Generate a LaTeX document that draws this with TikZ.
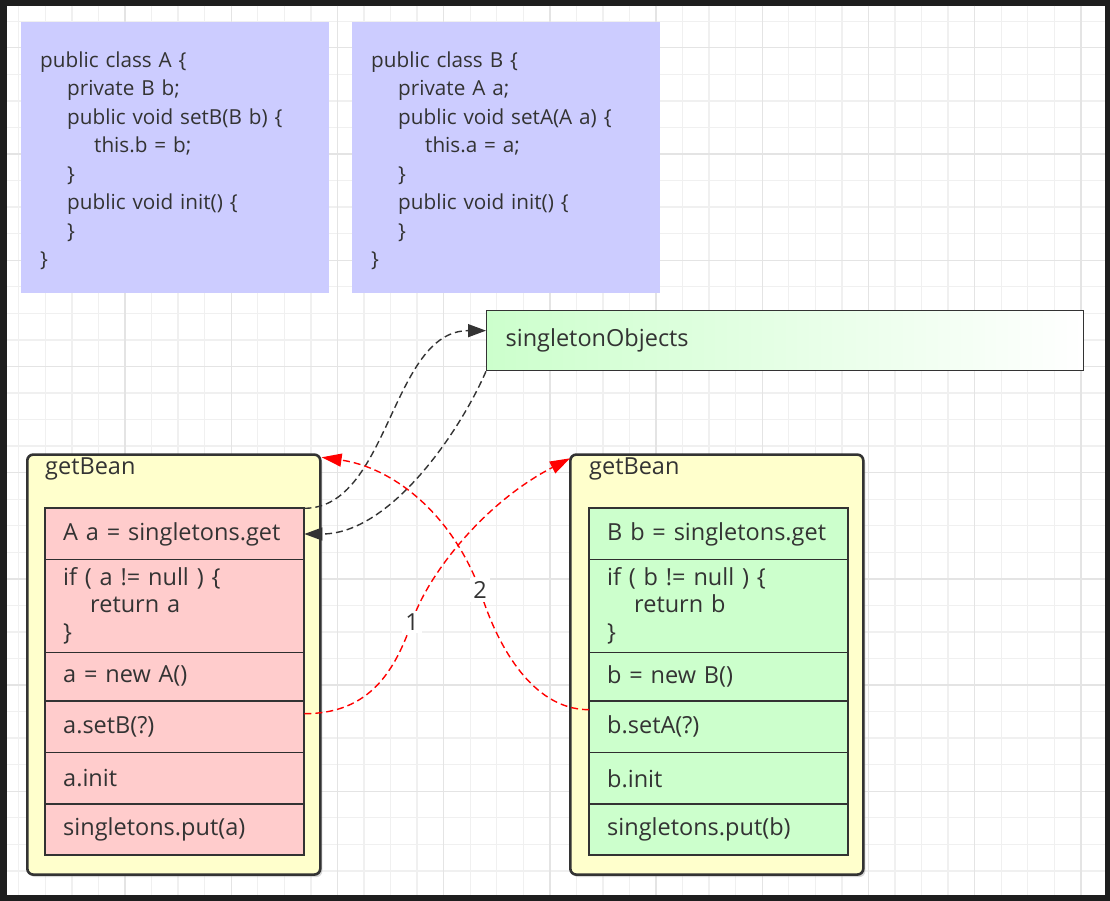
\documentclass[tikz,border=0pt]{standalone}
\usepackage{fontspec}
\setmainfont{Open Sans}
\usetikzlibrary{arrows.meta,calc,shadows}

\definecolor{frame}{HTML}{1E1E1E}
\definecolor{gridminor}{HTML}{F0F0F0}
\definecolor{gridmajor}{HTML}{E4E4E4}
\definecolor{codefill}{HTML}{CCCCFF}
\definecolor{beanfill}{HTML}{FFFFCC}
\definecolor{redfill}{HTML}{FFCCCC}
\definecolor{greenfill}{HTML}{CCFFCC}
\definecolor{ink}{HTML}{333333}
\definecolor{edgered}{HTML}{FF0000}

\newcommand{\topgap}{\rule{0pt}{22pt}}

\tikzset{
  txt/.style={font=\fontsize{23.5}{28}\selectfont, text=ink},
  codebox/.style={anchor=north west, fill=codefill, minimum width=308pt, minimum height=271pt,
    text width=270pt, inner xsep=19pt, inner ysep=0pt, align=left, text=ink,
    font=\fontsize{20.7}{28.5}\selectfont},
  sobox/.style={txt, anchor=north west, draw=ink, line width=1.3pt, left color=greenfill, right color=white,
    minimum width=597pt, minimum height=60pt, text width=559pt, inner xsep=19pt, inner ysep=0pt, align=left},
  beanbox/.style={anchor=north west, draw=ink, line width=2.6pt, fill=beanfill, rounded corners=6pt,
    minimum width=293pt, minimum height=420pt, inner sep=0pt,
    drop shadow={shadow xshift=2pt, shadow yshift=-2.5pt, opacity=0.3}},
  beantitle/.style={txt, anchor=west, inner sep=0pt},
  rowbox/.style={txt, anchor=north west, minimum width=259pt, text width=223pt, inner xsep=18pt,
    inner ysep=0pt, align=left, font=\fontsize{23.5}{27.5}\selectfont},
  rowA/.style={rowbox, fill=redfill},
  rowB/.style={rowbox, fill=greenfill},
  septhin/.style={draw=ink!90!black, line width=1pt},
  septhick/.style={draw=ink, line width=2pt},
  blk/.style={draw=ink, line width=1.4pt, dash pattern=on 7pt off 4pt, -{Triangle[length=18pt,width=13pt]}},
  redc/.style={draw=edgered, line width=1.4pt, dash pattern=on 7pt off 4pt, -{Triangle[length=20pt,width=13pt]}},
  lbl/.style={txt, fill=white, inner sep=3pt}
}

\begin{document}
\begin{tikzpicture}[x=1pt,y=-1pt]
% frame and background
\fill[frame] (0,0) rectangle (1110,901);
\fill[white] (7,6) rectangle (1105,895);
\useasboundingbox (0,0) rectangle (1110,901);

% grid
\foreach \k in {-4,...,36} {
  \pgfmathsetmacro\xx{125+26.55*\k}
  \draw[gridminor, line width=1.3pt] (\xx,6) -- (\xx,895);
}
\foreach \k in {-5,...,27} {
  \pgfmathsetmacro\yy{154+26.55*\k}
  \draw[gridminor, line width=1.3pt] (7,\yy) -- (1105,\yy);
}
\foreach \k in {0,4,...,36} {
  \pgfmathsetmacro\xx{125+26.55*\k}
  \draw[gridmajor, line width=1.4pt] (\xx,6) -- (\xx,895);
}
\foreach \k in {-4,0,...,24} {
  \pgfmathsetmacro\yy{154+26.55*\k}
  \draw[gridmajor, line width=1.4pt] (7,\yy) -- (1105,\yy);
}

% code boxes
\node[codebox] (codeA) at (21,22) {\topgap public class A \{\\
\hspace*{27pt}private B b;\\
\hspace*{27pt}public void setB(B b) \{\\
\hspace*{54pt}this.b = b;\\
\hspace*{27pt}\}\\
\hspace*{27pt}public void init() \{\\
\hspace*{27pt}\}\\
\}};
\node[codebox] (codeB) at (352,22) {\topgap public class B \{\\
\hspace*{27pt}private A a;\\
\hspace*{27pt}public void setA(A a) \{\\
\hspace*{54pt}this.a = a;\\
\hspace*{27pt}\}\\
\hspace*{27pt}public void init() \{\\
\hspace*{27pt}\}\\
\}};

% singletonObjects
\node[sobox] (so) at (486,310) {singletonObjects};

% getBean containers
\node[beanbox] (cA) at (26,453.3) {};
\node[beantitle] (tA) at (45,469) {getBean};
\node[beanbox] (cB) at (569,453.3) {};
\node[beantitle] (tB) at (589,469) {getBean};

% rows A
\node[rowA, minimum height=51pt]   (a1) at (45,508.3) {A a = singletons.get};
\node[rowA, minimum height=92.4pt] (a2) at (45,559.3) {if ( a != null ) \{\\\hspace*{27pt}return a\\\}};
\node[rowA, minimum height=49pt]   (a3) at (45,651.7) {a = new A()};
\node[rowA, minimum height=51.6pt] (a4) at (45,700.7) {a.setB(?)};
\node[rowA, minimum height=51.7pt] (a5) at (45,752.3) {a.init};
\node[rowA, minimum height=51pt]   (a6) at (45,804)   {singletons.put(a)};
\draw[septhin]  (a1.south west) -- (a1.south east);
\draw[septhin]  (a2.south west) -- (a2.south east);
\draw[septhick] (a3.south west) -- (a3.south east);
\draw[septhin]  (a4.south west) -- (a4.south east);
\draw[septhick] (a5.south west) -- (a5.south east);
\draw[septhick] (a1.north west) rectangle (a6.south east);

% rows B
\node[rowB, minimum height=51pt]   (b1) at (589,508.3) {B b = singletons.get};
\node[rowB, minimum height=92.4pt] (b2) at (589,559.3) {if ( b != null ) \{\\\hspace*{27pt}return b\\\}};
\node[rowB, minimum height=49pt]   (b3) at (589,651.7) {b = new B()};
\node[rowB, minimum height=51.6pt] (b4) at (589,700.7) {b.setA(?)};
\node[rowB, minimum height=51.7pt] (b5) at (589,752.3) {b.init};
\node[rowB, minimum height=51pt]   (b6) at (589,804)   {singletons.put(b)};
\draw[septhin]  (b1.south west) -- (b1.south east);
\draw[septhin]  (b2.south west) -- (b2.south east);
\draw[septhick] (b3.south west) -- (b3.south east);
\draw[septhin]  (b4.south west) -- (b4.south east);
\draw[septhick] (b5.south west) -- (b5.south east);
\draw[septhick] (b1.north west) rectangle (b6.south east);

% black connectors
\draw[blk] (a1.north east) .. controls +(85,0) and +(-95,0) .. ($(so.west)+(0,-10)$);
\draw[blk] (so.south west) .. controls +(-26,60) and +(86,0) .. (a1.east);

% red connectors
\draw[redc] ($(a4.east)+(0,-13)$) .. controls +(66,0) and (395,670) .. (412,622)
  node[lbl] {1}
  .. controls (425,580) and (480,505) .. ($(cB.north west)+(1,5)$);
\draw[redc] ($(b4.west)+(0,-17)$) .. controls +(-59,0) and (495,640) .. (480,590)
  node[lbl] {2}
  .. controls (450,510) and (390,467) .. ($(cA.north east)+(0,4)$);
\end{tikzpicture}
\end{document}
